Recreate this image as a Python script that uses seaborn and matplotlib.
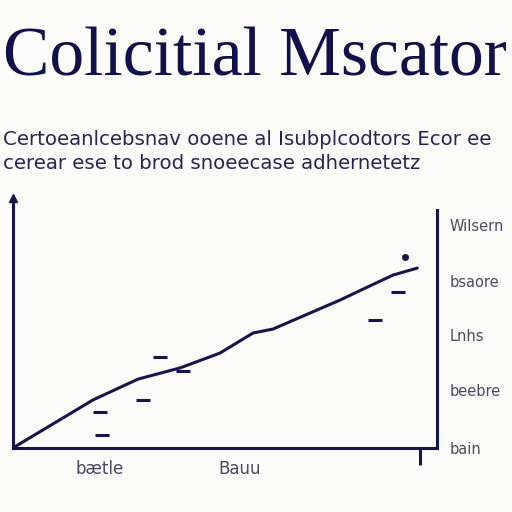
import numpy as np
import pandas as pd
import matplotlib
matplotlib.use("Agg")
import matplotlib.pyplot as plt
import seaborn as sns

NAVY = '#16164c'
LABEL_GRAY = '#4a4a62'
BG = '#fbfbf9'

# data
line_x = [0.0, 1.89, 2.95, 3.94, 4.88, 5.66, 6.13, 7.71, 8.35, 8.96, 9.53]
line_y = [0.0, 1.94, 2.78, 3.23, 3.83, 4.64, 4.80, 5.97, 6.49, 6.98, 7.26]
dash_x = [2.05, 2.10, 3.07, 3.47, 4.00, 8.54, 9.08]
dash_y = [1.45, 0.52, 1.94, 3.67, 3.10, 5.16, 6.29]
dot_x = [9.25]
dot_y = [7.70]

right_ticks = [0.0, 2.35, 4.55, 6.75, 9.0]
right_labels = ['bain', 'beebre', 'Lnhs', 'bsaore', 'Wilsern']
bottom_ticks = [2.05, 5.35]
bottom_labels = ['bætle', 'Bauu']

title = 'Colicitial Mscator'
subtitle = ['Certoeanlcebsnav ooene al Isubplcodtors Ecor ee',
            'cerear ese to brod snoeecase adhernetetz']

sns.set_theme(style='white')
plt.rcParams.update({
    'figure.facecolor': BG,
    'axes.facecolor': BG,
    'savefig.facecolor': BG,
})

fig = plt.figure(figsize=(5.12, 5.12), dpi=100)
ax = fig.add_axes([0.025, 0.125, 0.829, 0.484])

df = pd.DataFrame({'x': line_x, 'y': line_y})
sns.lineplot(data=df, x='x', y='y', ax=ax, color=NAVY, lw=2.2)
sns.scatterplot(x=dash_x, y=dash_y, ax=ax, marker='_', s=90, color=NAVY,
                linewidth=2.2)
sns.scatterplot(x=dot_x, y=dot_y, ax=ax, s=22, color=NAVY, edgecolor=NAVY)

ax.set_xlim(0, 10)
ax.set_ylim(0, 10)
for side in ['left', 'bottom', 'right']:
    ax.spines[side].set_color(NAVY)
    ax.spines[side].set_linewidth(2.2)
ax.spines['top'].set_visible(False)
ax.spines['right'].set_bounds(0, 9.6)

ax.set_xlabel('')
ax.set_ylabel('')
ax.yaxis.tick_right()
ax.set_yticks(right_ticks)
ax.set_yticklabels(right_labels, fontsize=10.5, color=LABEL_GRAY)
ax.tick_params(axis='y', length=0, pad=9)
ax.set_xticks(bottom_ticks)
ax.set_xticklabels(bottom_labels, fontsize=12, color=LABEL_GRAY)
ax.set_xticks([9.6], minor=True)
ax.tick_params(axis='x', which='major', length=0, pad=9)
ax.tick_params(axis='x', which='minor', length=12, width=2.2, color=NAVY,
               direction='out', bottom=True)

# arrow tip on the y axis
ax.plot([0], [10.1], marker='^', ms=6, color=NAVY, clip_on=False)

fig.text(0.497, 0.885, title, ha='center', va='center', fontsize=50,
         family='Liberation Serif', color='#10104a')
fig.text(0.006, 0.728, subtitle[0], ha='left', va='center', fontsize=14.2,
         color='#262656')
fig.text(0.006, 0.680, subtitle[1], ha='left', va='center', fontsize=14.2,
         color='#262656')

fig.savefig('out.png', dpi=100)
